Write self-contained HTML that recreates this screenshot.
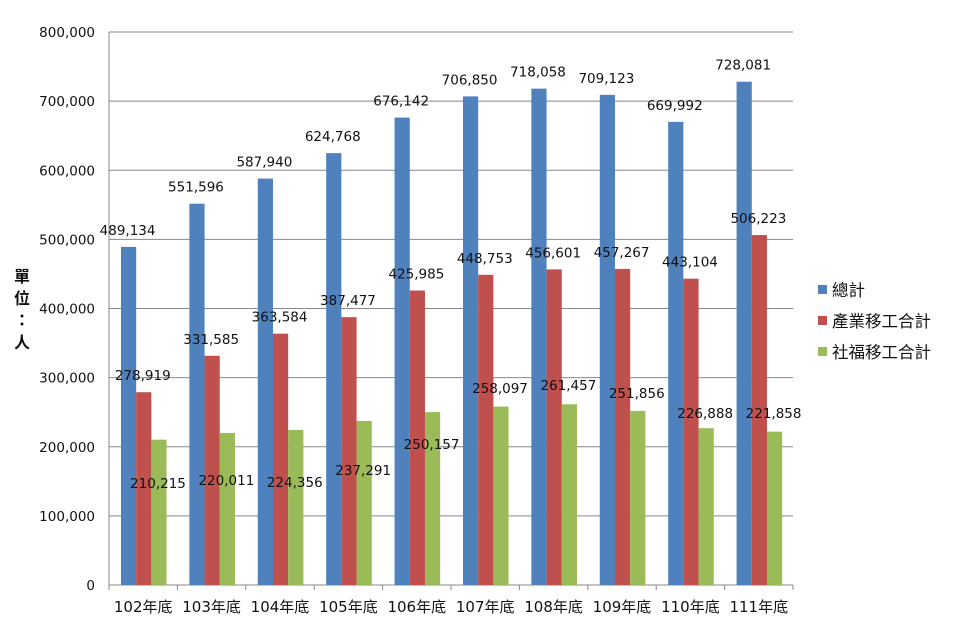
<!DOCTYPE html>
<html><head><meta charset="utf-8"><style>
body{margin:0;background:#fff}
svg text{font-family:"DejaVu Sans","Noto Sans CJK TC",sans-serif;fill:#111}
</style></head><body>
<svg id="c" width="954" height="633"></svg>
<script>
const categories=["102年底","103年底","104年底","105年底","106年底","107年底","108年底","109年底","110年底","111年底"];
const totalValues=[489134,551596,587940,624768,676142,706850,718058,709123,669992,728081];
const industryValues=[278919,331585,363584,387477,425985,448753,456601,457267,443104,506223];
const welfareValues=[210215,220011,224356,237291,250157,258097,261457,251856,226888,221858];
const yTicks=[0,100000,200000,300000,400000,500000,600000,700000,800000];
const seriesNames=["總計","產業移工合計","社福移工合計"];
const colors=["#4f81bd","#c0504d","#9bbb59"];
const greenLabelY=[483,480,482,470,444,388,385,393,413,413];
const NS="http://www.w3.org/2000/svg",svg=document.getElementById('c');
const X0=109,X1=793,Y0=585,Y1=32,cw=(X1-X0)/categories.length,bw=cw/4.5;
const y=v=>Y0-(v/800000)*(Y0-Y1);
const fmt=v=>v.toLocaleString('en-US');
function el(t,a,txt){const e=document.createElementNS(NS,t);for(const k in a)e.setAttribute(k,a[k]);if(txt!=null)e.textContent=txt;svg.appendChild(e);return e;}
yTicks.forEach(t=>{
 const g=el('line',{x1:X0,x2:X1,y1:y(t),y2:y(t),stroke:'#888','stroke-width':1});
 
 
 const l=el('text',{x:X0-14,y:y(t)+5,'text-anchor':'end','font-size':13.5},fmt(t));
 
 
});
const ax=el('line',{x1:X0,x2:X0,y1:Y1,y2:Y0,stroke:'#888'});


categories.forEach((c,i)=>{
 const tk=el('line',{x1:X0+cw*(i+1),x2:X0+cw*(i+1),y1:Y0,y2:Y0+5,stroke:'#888'});
 
 
 if(i==0){const t0=el('line',{x1:X0,x2:X0,y1:Y0,y2:Y0+5,stroke:'#888'});}
 const cl=el('text',{x:X0+cw*(i+.5),y:612,'text-anchor':'middle','font-size':15},c);
 
 
 [totalValues,industryValues,welfareValues].forEach((arr,s)=>{
  const bx=X0+cw*i+cw*0.175+bw*s;
  const r=el('rect',{x:bx,y:y(arr[i]),width:bw,height:Y0-y(arr[i]),fill:colors[s]});
  
  
 });
});
categories.forEach((c,i)=>{
 [totalValues,industryValues,welfareValues].forEach((arr,s)=>{
  const cx=X0+cw*i+cw*0.175+bw*(s+.5);
  const ly=s<2?y(arr[i])-12:greenLabelY[i]+5;
  const t=el('text',{x:cx-1,y:ly,'text-anchor':'middle','font-size':13.5},fmt(arr[i]));
  
  
 });
});
seriesNames.forEach((n,s)=>{
 const r=el('rect',{x:818,y:285+s*31,width:9,height:9,fill:colors[s]});
 
 
 const t=el('text',{x:832,y:296+s*31,'font-size':16.5},n);
 
 
});
["單","位","：","人"].forEach((ch,i)=>{
 const t=el('text',{x:22,y:282+i*22,'text-anchor':'middle','font-size':16,'font-weight':'bold'},ch);
 
 
});
</script>
</body></html>
